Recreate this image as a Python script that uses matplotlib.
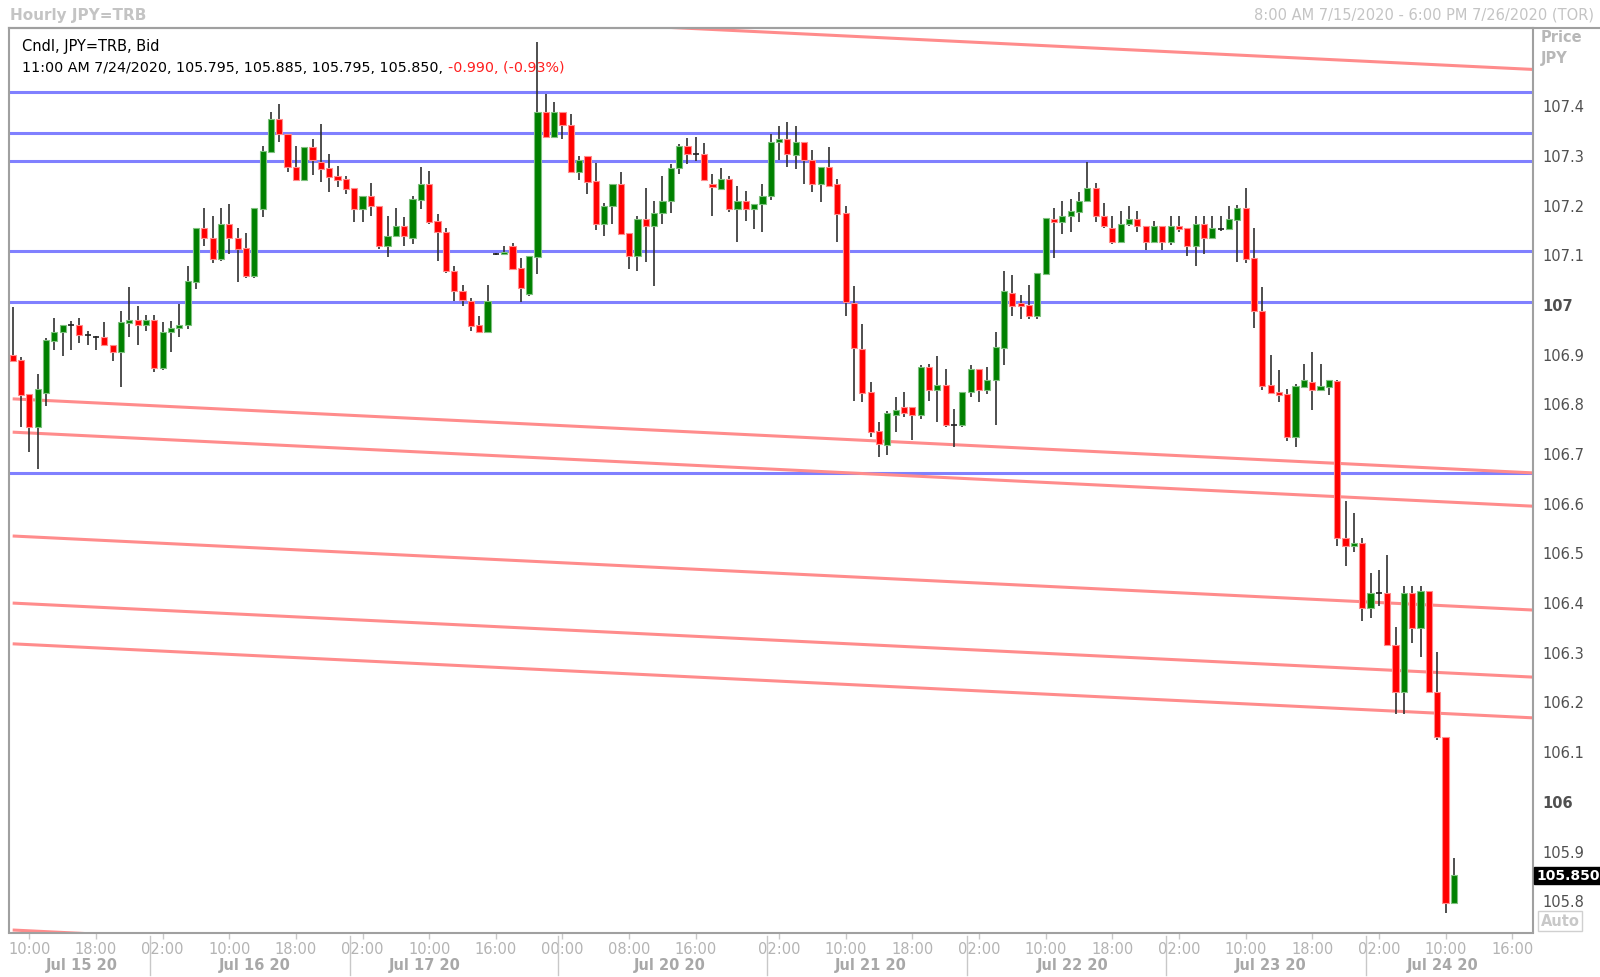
import numpy as np
import matplotlib
matplotlib.use('Agg')
import matplotlib.pyplot as plt
import matplotlib.transforms as mtransforms

# hourly candles, 8:00 AM 7/15/2020 .. 11:00 AM 7/24/2020
opens = [106.897, 106.887, 106.819, 106.753, 106.821, 106.926, 106.944, 106.958, 106.958, 106.938,
         106.934, 106.934, 106.918, 106.903, 106.962, 106.968, 106.958, 106.968, 106.871, 106.944,
         106.952, 106.958, 107.044, 107.153, 107.133, 107.091, 107.161, 107.133, 107.113, 107.056,
         107.191, 107.306, 107.372, 107.342, 107.276, 107.249, 107.316, 107.286, 107.274, 107.257,
         107.251, 107.233, 107.191, 107.217, 107.197, 107.117, 107.137, 107.157, 107.133, 107.209,
         107.241, 107.167, 107.145, 107.066, 107.026, 107.006, 106.958, 106.944, 107.101, 107.101,
         107.117, 107.072, 107.020, 107.095, 107.386, 107.336, 107.386, 107.360, 107.266, 107.298,
         107.247, 107.161, 107.197, 107.241, 107.143, 107.097, 107.171, 107.157, 107.183, 107.207,
         107.274, 107.318, 107.302, 107.302, 107.241, 107.231, 107.252, 107.191, 107.207, 107.191,
         107.201, 107.217, 107.326, 107.332, 107.300, 107.326, 107.290, 107.241, 107.276, 107.241,
         107.183, 107.002, 106.909, 106.823, 106.744, 106.716, 106.777, 106.793, 106.793, 106.777,
         106.873, 106.827, 106.837, 106.757, 106.757, 106.823, 106.869, 106.827, 106.847, 106.911,
         107.022, 107.002, 106.998, 106.976, 107.060, 107.171, 107.165, 107.177, 107.185, 107.207,
         107.233, 107.177, 107.153, 107.125, 107.161, 107.171, 107.157, 107.125, 107.157, 107.125,
         107.157, 107.153, 107.117, 107.161, 107.133, 107.151, 107.151, 107.169, 107.193, 107.093,
         106.986, 106.837, 106.823, 106.819, 106.732, 106.833, 106.843, 106.827, 106.833, 106.845,
         106.529, 106.513, 106.519, 106.388, 106.419, 106.419, 106.314, 106.219, 106.419, 106.348,
         106.423, 106.219, 106.129, 105.795]
highs = [106.994, 106.893, 106.819, 106.859, 106.931, 106.972, 106.958, 106.966, 106.972, 106.946,
         106.936, 106.964, 106.918, 106.986, 107.034, 106.996, 106.978, 106.978, 106.964, 106.966,
         107.000, 107.076, 107.153, 107.193, 107.177, 107.193, 107.201, 107.153, 107.143, 107.193,
         107.318, 107.386, 107.402, 107.342, 107.318, 107.316, 107.332, 107.362, 107.302, 107.278,
         107.257, 107.233, 107.217, 107.243, 107.197, 107.177, 107.193, 107.175, 107.217, 107.276,
         107.268, 107.181, 107.153, 107.076, 107.038, 107.012, 106.976, 107.038, 107.103, 107.117,
         107.123, 107.093, 107.097, 107.527, 107.423, 107.407, 107.386, 107.382, 107.298, 107.298,
         107.284, 107.203, 107.241, 107.266, 107.143, 107.177, 107.233, 107.207, 107.258, 107.282,
         107.322, 107.334, 107.336, 107.324, 107.262, 107.274, 107.258, 107.237, 107.227, 107.201,
         107.241, 107.342, 107.358, 107.366, 107.358, 107.326, 107.310, 107.276, 107.316, 107.251,
         107.197, 107.036, 106.960, 106.843, 106.762, 106.785, 106.813, 106.823, 106.793, 106.877,
         106.879, 106.895, 106.869, 106.789, 106.823, 106.877, 106.869, 106.873, 106.944, 107.066,
         107.058, 107.018, 107.038, 107.062, 107.173, 107.193, 107.207, 107.211, 107.225, 107.286,
         107.243, 107.203, 107.177, 107.187, 107.197, 107.187, 107.157, 107.167, 107.157, 107.177,
         107.177, 107.153, 107.177, 107.177, 107.177, 107.177, 107.197, 107.199, 107.233, 107.153,
         107.034, 106.897, 106.867, 106.829, 106.839, 106.879, 106.903, 106.879, 106.847, 106.847,
         106.603, 106.579, 106.529, 106.459, 106.465, 106.495, 106.350, 106.433, 106.433, 106.433,
         106.423, 106.300, 106.129, 105.885]
lows = [106.883, 106.752, 106.702, 106.668, 106.795, 106.907, 106.895, 106.907, 106.922, 106.918,
        106.907, 106.918, 106.885, 106.833, 106.934, 106.918, 106.946, 106.863, 106.867, 106.903,
        106.934, 106.950, 107.030, 107.117, 107.082, 107.087, 107.101, 107.044, 107.052, 107.052,
        107.175, 107.306, 107.326, 107.266, 107.249, 107.249, 107.260, 107.245, 107.225, 107.235,
        107.221, 107.165, 107.165, 107.177, 107.111, 107.095, 107.137, 107.117, 107.121, 107.191,
        107.161, 107.087, 107.062, 107.006, 106.996, 106.946, 106.944, 106.944, 107.099, 107.101,
        107.070, 107.004, 107.016, 107.060, 107.336, 107.336, 107.332, 107.266, 107.250, 107.221,
        107.149, 107.137, 107.161, 107.141, 107.070, 107.066, 107.085, 107.036, 107.161, 107.183,
        107.262, 107.282, 107.288, 107.249, 107.177, 107.231, 107.185, 107.124, 107.167, 107.151,
        107.145, 107.209, 107.290, 107.276, 107.272, 107.241, 107.225, 107.205, 107.237, 107.124,
        106.976, 106.805, 106.803, 106.732, 106.692, 106.696, 106.742, 106.773, 106.726, 106.769,
        106.805, 106.763, 106.753, 106.712, 106.753, 106.813, 106.803, 106.819, 106.757, 106.877,
        106.976, 106.970, 106.970, 106.970, 107.060, 107.092, 107.141, 107.145, 107.165, 107.207,
        107.165, 107.153, 107.121, 107.125, 107.157, 107.145, 107.109, 107.125, 107.109, 107.119,
        107.145, 107.097, 107.076, 107.101, 107.133, 107.147, 107.151, 107.084, 107.082, 106.952,
        106.827, 106.821, 106.803, 106.724, 106.712, 106.833, 106.787, 106.827, 106.817, 106.513,
        106.473, 106.501, 106.362, 106.368, 106.392, 106.314, 106.175, 106.175, 106.318, 106.290,
        106.219, 106.123, 105.775, 105.795]
closes = [106.885, 106.817, 106.753, 106.829, 106.928, 106.944, 106.958, 106.958, 106.938, 106.938,
          106.934, 106.918, 106.903, 106.964, 106.968, 106.958, 106.968, 106.871, 106.944, 106.952,
          106.958, 107.046, 107.153, 107.133, 107.091, 107.161, 107.133, 107.111, 107.056, 107.193,
          107.308, 107.372, 107.342, 107.276, 107.249, 107.316, 107.290, 107.272, 107.255, 107.249,
          107.231, 107.191, 107.217, 107.197, 107.117, 107.137, 107.157, 107.137, 107.211, 107.241,
          107.165, 107.145, 107.066, 107.026, 107.008, 106.956, 106.944, 107.006, 107.101, 107.105,
          107.070, 107.032, 107.097, 107.386, 107.336, 107.386, 107.360, 107.266, 107.290, 107.245,
          107.161, 107.197, 107.241, 107.141, 107.097, 107.171, 107.157, 107.183, 107.207, 107.274,
          107.318, 107.302, 107.302, 107.249, 107.235, 107.252, 107.191, 107.207, 107.191, 107.201,
          107.217, 107.326, 107.332, 107.302, 107.326, 107.290, 107.241, 107.276, 107.237, 107.181,
          107.004, 106.911, 106.821, 106.742, 106.718, 106.781, 106.787, 106.781, 106.777, 106.873,
          106.827, 106.837, 106.757, 106.757, 106.823, 106.869, 106.827, 106.847, 106.913, 107.026,
          106.996, 106.996, 106.976, 107.062, 107.173, 107.165, 107.177, 107.187, 107.207, 107.233,
          107.177, 107.157, 107.125, 107.161, 107.171, 107.157, 107.125, 107.157, 107.125, 107.157,
          107.151, 107.117, 107.161, 107.133, 107.153, 107.151, 107.171, 107.193, 107.091, 106.986,
          106.835, 106.821, 106.817, 106.732, 106.835, 106.847, 106.827, 106.835, 106.847, 106.529,
          106.513, 106.519, 106.388, 106.419, 106.419, 106.314, 106.219, 106.419, 106.348, 106.423,
          106.219, 106.129, 105.795, 105.850]

# horizontal support/resistance levels
blue_levels = [107.426, 107.344, 107.288, 107.107, 107.003, 106.660]
# descending trend lines: price at start and at end of the visible axis
trend_start = [107.621, 106.809, 106.742, 106.533, 106.398, 106.316, 105.740]
trend_end = [107.472, 106.660, 106.593, 106.384, 106.249, 106.167, 105.591]

time_ticks = [2, 10, 18, 26, 34, 42, 50, 58, 66, 74, 82, 92, 100, 108, 116, 124, 132, 140, 148, 156, 164, 172, 180]
time_labels = ['10:00', '18:00', '02:00', '10:00', '18:00', '02:00', '10:00', '16:00', '00:00', '08:00', '16:00',
               '02:00', '10:00', '18:00', '02:00', '10:00', '18:00', '02:00', '10:00', '18:00', '02:00', '10:00', '16:00']
day_pos = [8.3, 29, 49.5, 78.9, 103, 127.2, 151, 171.7]
day_labels = ['Jul 15 20', 'Jul 16 20', 'Jul 17 20', 'Jul 20 20', 'Jul 21 20', 'Jul 22 20', 'Jul 23 20', 'Jul 24 20']
day_breaks = [16.5, 40.5, 65.5, 90.5, 114.5, 138.5, 162.5]
price_ticks = [105.8, 105.9, 106.0, 106.1, 106.2, 106.3, 106.4, 106.5, 106.6, 106.7, 106.8, 106.9, 107.0, 107.1, 107.2, 107.3, 107.4]

plt.rcParams['font.family'] = ['DejaVu Sans']

W, H = 1600, 978
fig = plt.figure(figsize=(W / 100, H / 100), dpi=100)
left, right, top, bottom = 8.5, 1533, 28.7, 933.5
ax = fig.add_axes([left / W, 1 - bottom / H, (right - left) / W, (bottom - top) / H])

x0, x1 = -0.5, 182.5
ax.set_xlim(x0, x1)
ax.set_ylim(105.735, 107.556)

for lv in blue_levels:
    ax.axhline(lv, color='#8080ff', lw=2.2, zorder=1)
for s, e in zip(trend_start, trend_end):
    ax.plot([0, x1], [s, e], color='#ff8c8c', lw=2.2, zorder=1, solid_capstyle='butt')

o = np.array(opens)
h = np.array(highs)
l = np.array(lows)
c = np.array(closes)
x = np.arange(len(o))

ax.vlines(x, l, h, color='#303030', lw=1.2, zorder=2)
up = c > o
dn = c < o
flat = ~(up | dn)
bw = 0.74
ax.bar(x[up], (c - o)[up], bottom=o[up], width=bw, color='#008000', edgecolor='#7fc07f', lw=0.8, zorder=3)
ax.bar(x[dn], (o - c)[dn], bottom=c[dn], width=bw, color='#ff0000', edgecolor='#ff8c8c', lw=0.8, zorder=3)
ax.hlines(o[flat], x[flat] - bw / 2, x[flat] + bw / 2, color='#202020', lw=1.2, zorder=3)

for sp in ax.spines.values():
    sp.set_color('#a0a0a0')
    sp.set_linewidth(1.5)

ax.yaxis.tick_right()
ax.set_yticks(price_ticks)
ax.set_yticklabels([('%g' % t) if abs(t - round(t)) < 1e-9 else '%.1f' % t for t in price_ticks])
ax.tick_params(axis='y', length=0, pad=6.5, labelsize=10.5, labelcolor='#505050')
for t, lab in zip(price_ticks, ax.get_yticklabels()):
    if abs(t - round(t)) < 1e-9:
        lab.set_fontweight('bold')

ax.set_xticks(time_ticks)
ax.set_xticklabels(time_labels)
ax.tick_params(axis='x', length=4, width=1, color='#c8c8c8', pad=2, labelsize=10.5, labelcolor='#b4b4b4')

xt = ax.get_xaxis_transform()
for p, lab in zip(day_pos, day_labels):
    ax.text(p, -(966 - bottom) / (bottom - top), lab, transform=xt, ha='center', va='center',
            fontsize=10.5, fontweight='bold', color='#a8a8a8')
for b in day_breaks:
    ax.plot([b, b], [-0.004, -0.047], transform=xt, color='#c8c8c8', lw=1, clip_on=False)

# header inside the chart
t1 = fig.text(22.5 / W, 1 - 46 / H, 'Cndl, JPY=TRB, Bid', fontsize=10.5, color='black', va='center')
t2 = fig.text(22.5 / W, 1 - 68 / H, '11:00 AM 7/24/2020, 105.795, 105.885, 105.795, 105.850, ',
              fontsize=10.3, color='black', va='center')
ax.annotate('-0.990, (-0.93%)', xy=(1, 0.5), xycoords=t2, va='center', ha='left',
            fontsize=10.3, color='#ff2020')

fig.text(10 / W, 1 - 15.5 / H, 'Hourly JPY=TRB', fontsize=11, fontweight='bold', color='#c4c4c4', va='center')
fig.text(1594 / W, 1 - 15.5 / H, '8:00 AM 7/15/2020 - 6:00 PM 7/26/2020 (TOR)', fontsize=10.5,
         color='#c4c4c4', va='center', ha='right')
fig.text(1541 / W, 1 - 38 / H, 'Price', fontsize=10.5, fontweight='bold', color='#b8b8b8', va='center')
fig.text(1541 / W, 1 - 59 / H, 'JPY', fontsize=10.5, fontweight='bold', color='#b8b8b8', va='center')
fig.text(1560 / W, 1 - 922 / H, 'Auto', fontsize=10.5, fontweight='bold', color='#c8c8c8', va='center', ha='center',
         bbox=dict(boxstyle='square,pad=0.15', facecolor='white', edgecolor='#d0d0d0'))

yt = mtransforms.blended_transform_factory(ax.transAxes, ax.transData)
ax.text(1.002, closes[-1], '%.3f' % closes[-1], transform=yt, ha='left', va='center', fontsize=10,
        fontweight='bold', color='white', bbox=dict(boxstyle='square,pad=0.12', facecolor='black', edgecolor='black'))

fig.add_artist(plt.Line2D([left / W, 1], [1 - top / H, 1 - top / H], color='#a0a0a0', lw=1.5))

fig.savefig('out.png', dpi=100, facecolor='white')
